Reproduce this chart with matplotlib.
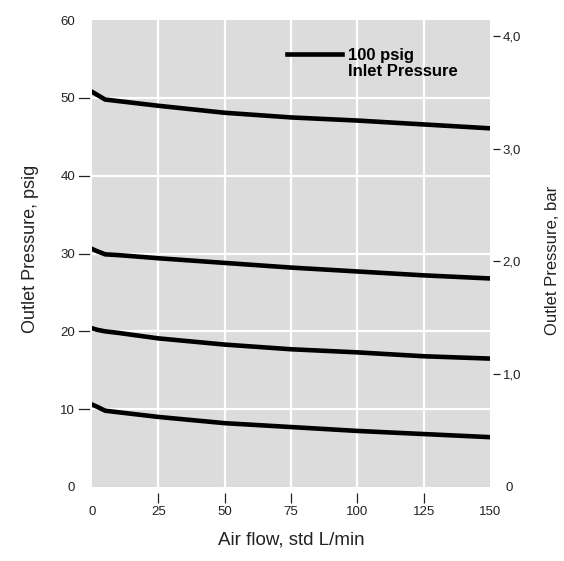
import matplotlib.pyplot as plt

plt.rcParams['font.family'] = ['Liberation Sans', 'DejaVu Sans']

flow = [0, 2, 5, 10, 25, 50, 75, 100, 125, 150]
set_50 = [50.8, 50.4, 49.8, 49.6, 49.0, 48.1, 47.5, 47.1, 46.6, 46.1]
set_30 = [30.6, 30.3, 29.9, 29.8, 29.4, 28.8, 28.2, 27.7, 27.2, 26.8]
set_20 = [20.4, 20.2, 20.0, 19.8, 19.1, 18.3, 17.7, 17.3, 16.8, 16.5]
set_10 = [10.6, 10.3, 9.8, 9.6, 9.0, 8.2, 7.7, 7.2, 6.8, 6.4]

psig_ticks = [10, 20, 30, 40, 50]
psig_ends = [0, 60]
flow_ticks = [25, 50, 75, 100, 125]
flow_ends = [0, 150]
bar_ticks = [1, 2, 3, 4]
bar_labels = ['1,0', '2,0', '3,0', '4,0']
psi_per_bar = 14.5

txt = '#222222'
fig = plt.figure(figsize=(5.64, 5.61), dpi=100)
ax = fig.add_axes([0.163, 0.132, 0.706, 0.832])
ax.set_facecolor('#dcdcdc')

for i, curve in enumerate([set_50, set_30, set_20, set_10]):
    ax.plot(flow, curve, color='black', lw=3.3,
            label='100 psig' if i == 0 else None, zorder=3)

ax.set_xlim(0, 150)
ax.set_ylim(0, 60)
ax.set_xticks(flow_ticks)
ax.set_yticks(psig_ticks)
# end values get a label but no tick mark
ax.set_xticks(flow_ends, [str(v) for v in flow_ends], minor=True)
ax.set_yticks(psig_ends, [str(v) for v in psig_ends], minor=True)
ax.grid(True, which='major', color='white', lw=1.6, zorder=1)
ax.set_axisbelow(True)

ax2 = ax.twinx()
ax2.set_ylim(0, 60 / psi_per_bar)
ax2.set_yticks(bar_ticks, bar_labels)
ax2.set_yticks([0], ['0'], minor=True)

for s in list(ax.spines.values()) + list(ax2.spines.values()):
    s.set_visible(False)
ax.spines['bottom'].set_position(('outward', 4))
ax2.spines['right'].set_position(('outward', 2))

ax.tick_params(axis='x', which='major', length=7, width=0.9, pad=3,
               labelsize=9.5, colors=txt, direction='out')
ax2.tick_params(axis='y', which='major', length=5, width=0.9, pad=2,
                labelsize=9.5, colors=txt, direction='out')
ax.tick_params(axis='x', which='minor', length=0, pad=10, labelsize=9.5,
               colors=txt)
ax.tick_params(axis='y', which='both', length=0, pad=12, labelsize=9.5,
               colors=txt)
ax2.tick_params(axis='y', which='minor', length=0, pad=9, labelsize=9.5,
                colors=txt)

# left tick dashes, drawn as short segments in axis coordinates
for v in psig_ticks:
    ax.plot([-0.032, -0.0075], [v, v], transform=ax.get_yaxis_transform(),
            color=txt, lw=0.9, clip_on=False)

ax.set_xlabel('Air flow, std L/min', fontsize=13.5, color=txt)
ax.set_ylabel('Outlet Pressure, psig', fontsize=13, color=txt)
ax2.set_ylabel('Outlet Pressure, bar', fontsize=12, color=txt)
ax.xaxis.set_label_coords(0.5, -0.096)
ax.yaxis.set_label_coords(-0.132, 0.51)
ax2.yaxis.set_label_coords(1.137, 0.485)

leg = ax.legend(loc='upper left', bbox_to_anchor=(0.49, 0.940), frameon=False,
                handlelength=3.3, handletextpad=0.36, borderaxespad=0,
                borderpad=0, prop={'weight': 'bold', 'size': 12})
leg.get_lines()[0].set_linewidth(3.3)
ax.text(0.643, 0.891, 'Inlet Pressure', transform=ax.transAxes,
        fontsize=12, fontweight='bold', color='black', va='center')

fig.savefig('out.png', dpi=100)
